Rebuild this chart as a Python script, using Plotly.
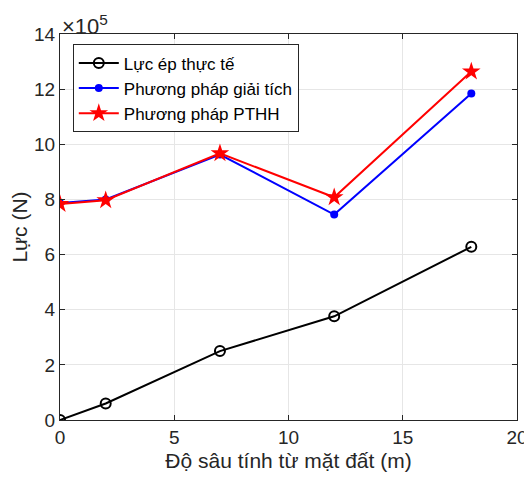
import plotly.graph_objects as go

depth = [0, 2, 7, 12, 18]
luc_thuc_te = [0.0, 0.6, 2.5, 3.76, 6.28]
giai_tich = [7.87, 8.0, 9.63, 7.45, 11.84]
pthh = [7.83, 7.97, 9.67, 8.08, 12.64]
names = ["Lực ép thực tế", "Phương pháp giải tích", "Phương pháp PTHH"]
x_ticks = [0, 5, 10, 15, 20]
y_ticks = [0, 2, 4, 6, 8, 10, 12, 14]

FONT = "Liberation Sans, Arial, sans-serif"

fig = go.Figure()
fig.add_trace(go.Scatter(x=depth, y=luc_thuc_te, name=names[0], mode="lines+markers",
                         line=dict(color="black", width=2),
                         marker=dict(symbol="circle-open", size=10, color="black", line=dict(width=2))))
fig.add_trace(go.Scatter(x=depth, y=giai_tich, name=names[1], mode="lines+markers",
                         line=dict(color="#0000ff", width=2),
                         marker=dict(symbol="circle", size=8, color="#0000ff")))
fig.add_trace(go.Scatter(x=depth, y=pthh, name=names[2], mode="lines+markers",
                         line=dict(color="#ff0000", width=2),
                         marker=dict(symbol="star", size=14, color="#ff0000", line=dict(width=0))))

axis_common = dict(showline=True, linecolor="#262626", linewidth=1, mirror="ticks",
                   ticks="inside", ticklen=5, tickcolor="#262626", automargin=False,
                   showgrid=True, gridcolor="#e6e6e6", gridwidth=1, zeroline=False,
                   tickfont=dict(family=FONT, size=19, color="#262626"))

fig.update_xaxes(range=[0, 20], tickvals=x_ticks,
                 title=dict(text="Độ sâu tính từ mặt đất (m)", font=dict(family=FONT, size=21, color="#262626"), standoff=6),
                 **axis_common)
fig.update_yaxes(range=[0, 14], tickvals=y_ticks,
                 title=dict(text="Lực (N)", font=dict(family=FONT, size=21, color="#262626"), standoff=3),
                 **axis_common)

fig.add_annotation(text="×10<sup>5</sup>", xref="paper", yref="paper", x=0.0, y=1.0,
                   xanchor="left", yanchor="bottom", showarrow=False, xshift=0, yshift=-7,
                   font=dict(family=FONT, size=22, color="#262626"))

# the page body has an 8px margin, so compensate in the figure margins
fig.update_layout(
    width=524, height=475,
    margin=dict(l=52, r=15, t=26, b=63),
    paper_bgcolor="white", plot_bgcolor="white",
    legend=dict(x=0.028, y=0.973, xanchor="left", yanchor="top",
                bgcolor="white", bordercolor="#262626", borderwidth=1,
                font=dict(family=FONT, size=17, color="black"),
                tracegroupgap=0, itemwidth=40),
    showlegend=True,
)

fig.write_html("out.html")
